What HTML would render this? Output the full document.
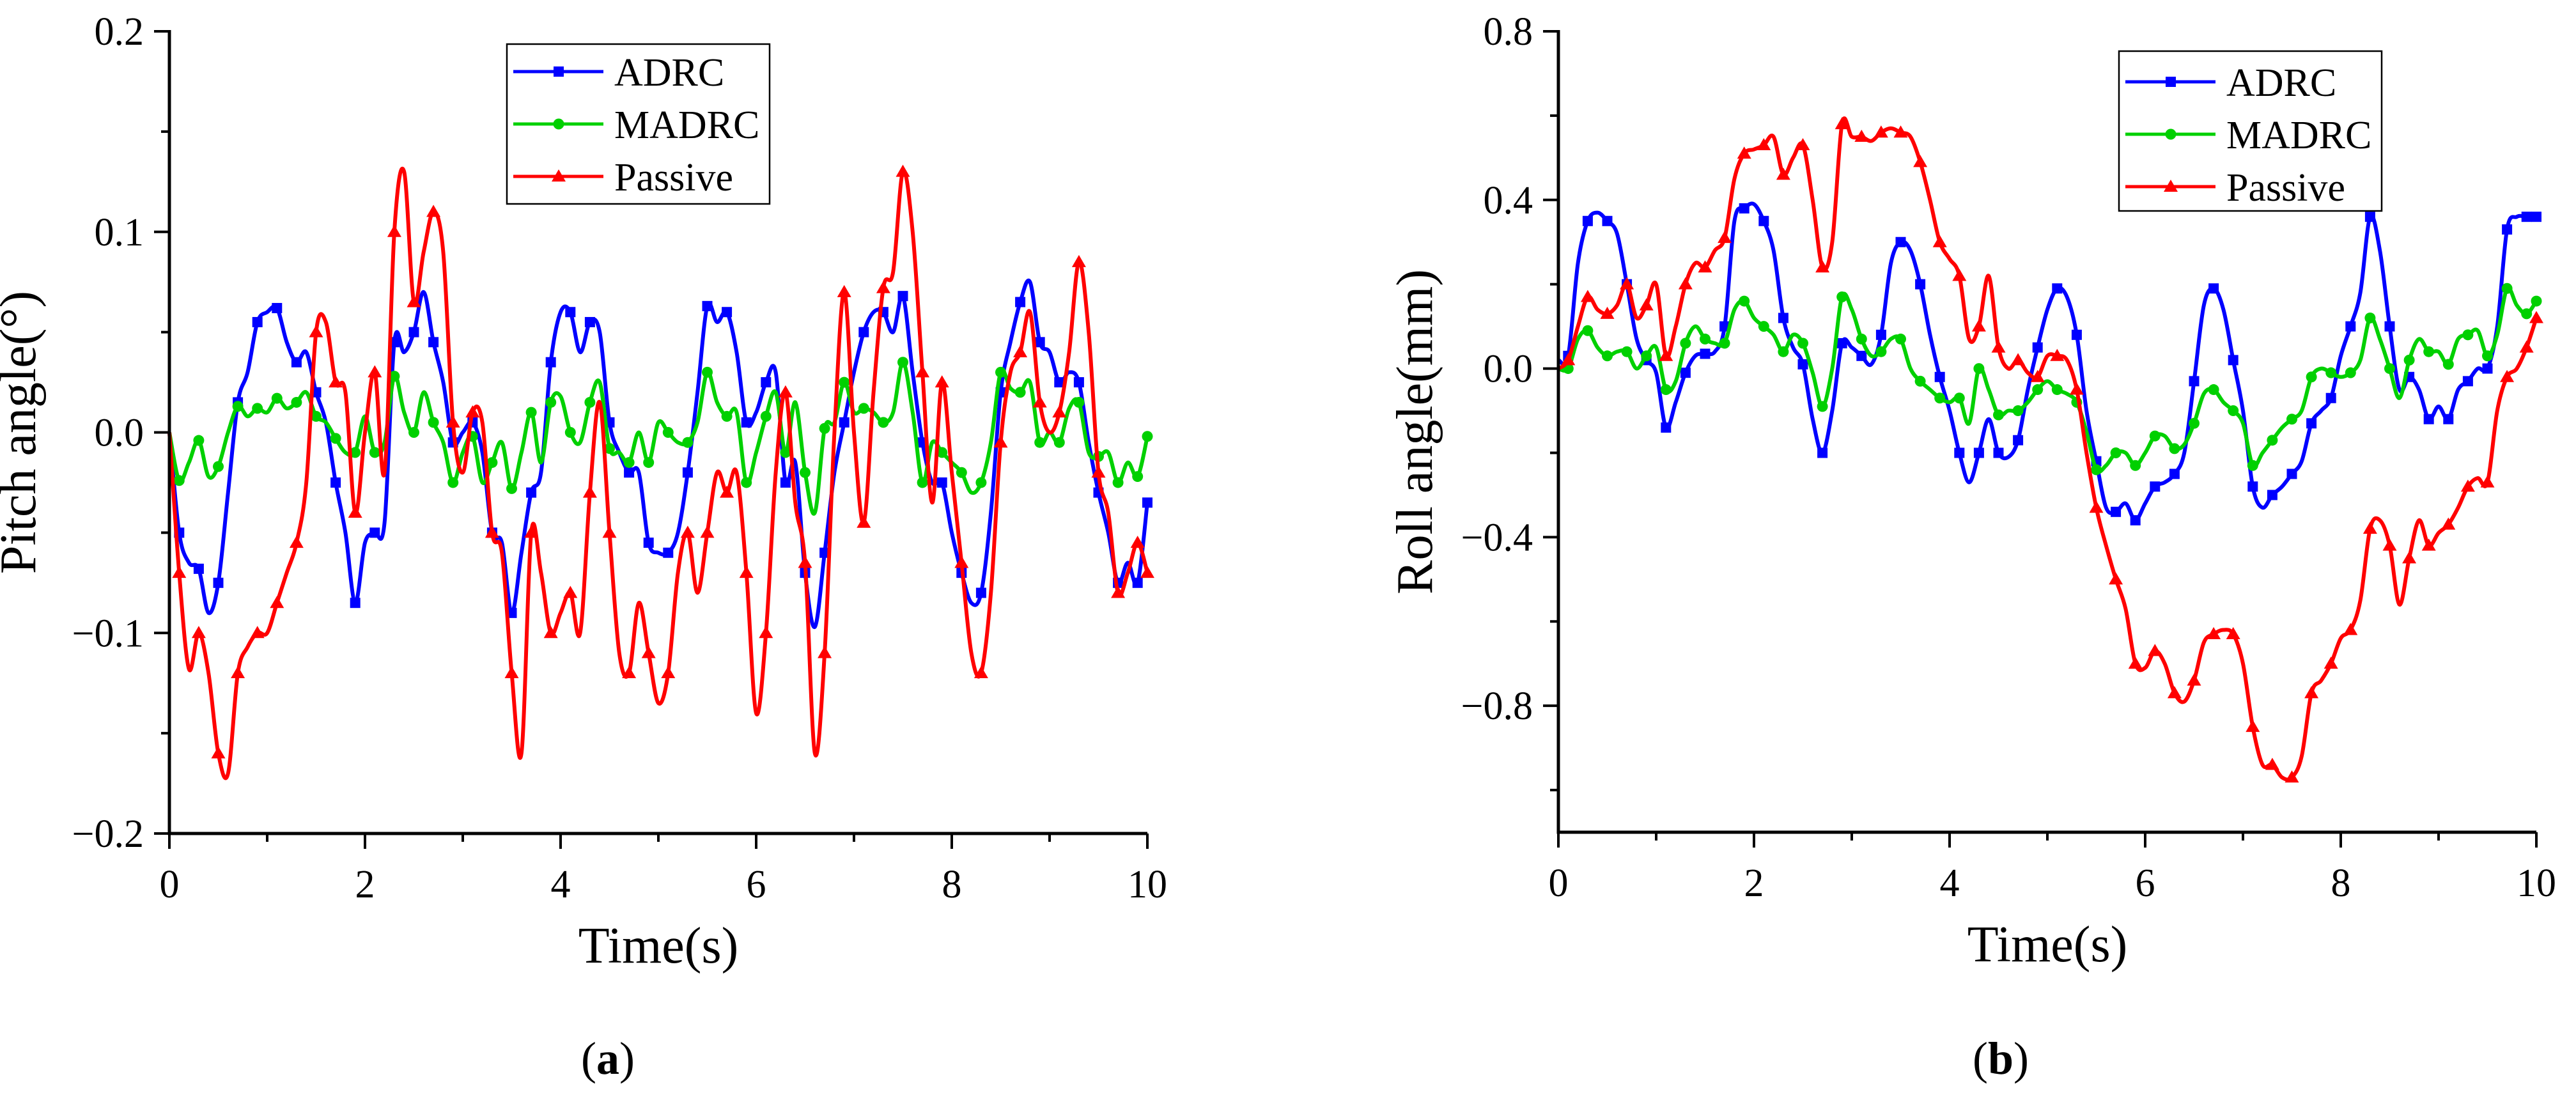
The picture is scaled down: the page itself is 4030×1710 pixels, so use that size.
<!DOCTYPE html>
<html><head><meta charset="utf-8"><style>
html,body{margin:0;padding:0;background:#fff;}
svg{display:block;font-family:"Liberation Serif",serif;}
text{font-family:"Liberation Serif",serif;}
</style></head><body>
<svg id="fig" width="4030" height="1710" viewBox="0 0 4030 1710" xmlns="http://www.w3.org/2000/svg"></svg>
<script>
const timeStart = 0, timeStep = 0.1;
const pitchADRC = [0,-0.05,-0.065,-0.068,-0.09,-0.075,-0.03,0.015,0.03,0.055,0.06,0.062,0.045,0.035,0.04,0.02,0.005,-0.025,-0.05,-0.085,-0.055,-0.05,-0.045,0.045,0.04,0.05,0.07,0.045,0.025,-0.005,0,0.005,-0.01,-0.05,-0.055,-0.09,-0.06,-0.03,-0.02,0.035,0.06,0.06,0.04,0.055,0.05,0.005,-0.01,-0.02,-0.02,-0.055,-0.06,-0.06,-0.05,-0.02,0.02,0.063,0.055,0.06,0.04,0.005,0.01,0.025,0.03,-0.025,-0.015,-0.07,-0.097,-0.06,-0.02,0.005,0.03,0.05,0.06,0.06,0.05,0.068,0.03,-0.005,-0.025,-0.025,-0.05,-0.07,-0.085,-0.08,-0.04,0.02,0.045,0.065,0.075,0.045,0.04,0.025,0.03,0.025,-0.005,-0.03,-0.05,-0.075,-0.065,-0.075,-0.035];
const pitchMADRC = [0,-0.024,-0.015,-0.004,-0.022,-0.017,0,0.013,0.008,0.012,0.01,0.017,0.012,0.015,0.02,0.008,0.005,-0.003,-0.01,-0.01,0.008,-0.01,-0.005,0.028,0.01,0,0.02,0.005,-0.005,-0.025,-0.01,-0.002,-0.025,-0.015,-0.005,-0.028,-0.01,0.01,-0.015,0.015,0.018,0,-0.005,0.015,0.025,-0.008,-0.01,-0.015,0,-0.015,0.005,0,-0.005,-0.005,0.005,0.03,0.015,0.008,0.01,-0.025,-0.01,0.008,0.02,-0.01,0.015,-0.02,-0.04,0.002,0.005,0.025,0.01,0.012,0.01,0.005,0.01,0.035,0.01,-0.025,-0.005,-0.01,-0.015,-0.02,-0.03,-0.025,-0.005,0.03,0.022,0.02,0.025,-0.005,0,-0.005,0.012,0.015,-0.01,-0.012,-0.01,-0.025,-0.015,-0.022,-0.002];
const pitchPassive = [0,-0.07,-0.118,-0.1,-0.12,-0.16,-0.17,-0.12,-0.107,-0.1,-0.1,-0.085,-0.07,-0.055,-0.025,0.05,0.055,0.025,0.02,-0.04,0,0.03,-0.02,0.1,0.13,0.065,0.09,0.11,0.09,0.005,-0.02,0.01,0.005,-0.05,-0.06,-0.12,-0.16,-0.05,-0.07,-0.1,-0.09,-0.08,-0.1,-0.03,0.015,-0.05,-0.11,-0.12,-0.085,-0.11,-0.135,-0.12,-0.07,-0.05,-0.08,-0.05,-0.02,-0.03,-0.02,-0.07,-0.14,-0.1,-0.02,0.02,-0.035,-0.065,-0.16,-0.11,0,0.07,0,-0.045,0.02,0.072,0.08,0.13,0.1,0.03,-0.035,0.025,-0.02,-0.065,-0.11,-0.12,-0.08,-0.005,0.03,0.04,0.06,0.015,0,0.01,0.04,0.085,0.05,-0.02,-0.04,-0.08,-0.07,-0.055,-0.07];
const rollADRC = [0.02,0.03,0.25,0.35,0.37,0.35,0.32,0.2,0.07,0.02,-0.01,-0.14,-0.08,-0.01,0.03,0.035,0.04,0.1,0.35,0.38,0.39,0.35,0.28,0.12,0.05,0.01,-0.12,-0.2,-0.1,0.06,0.05,0.03,0.01,0.08,0.25,0.3,0.28,0.2,0.08,-0.02,-0.1,-0.2,-0.27,-0.2,-0.12,-0.2,-0.21,-0.17,-0.05,0.05,0.14,0.19,0.17,0.08,-0.1,-0.22,-0.33,-0.34,-0.32,-0.36,-0.32,-0.28,-0.27,-0.25,-0.2,-0.03,0.15,0.19,0.14,0.02,-0.1,-0.28,-0.33,-0.3,-0.28,-0.25,-0.22,-0.13,-0.1,-0.07,0.03,0.1,0.18,0.36,0.28,0.1,-0.05,-0.02,-0.05,-0.12,-0.09,-0.12,-0.05,-0.03,0,0,0.1,0.33,0.36,0.36,0.36];
const rollMADRC = [0,0,0.07,0.09,0.05,0.03,0.04,0.04,0,0.03,0.05,-0.05,-0.03,0.06,0.1,0.07,0.06,0.06,0.14,0.16,0.12,0.1,0.08,0.04,0.08,0.06,-0.01,-0.09,0,0.17,0.14,0.07,0.03,0.04,0.07,0.07,0,-0.03,-0.05,-0.07,-0.08,-0.07,-0.13,0,-0.05,-0.11,-0.1,-0.1,-0.08,-0.05,-0.03,-0.05,-0.06,-0.08,-0.15,-0.24,-0.23,-0.2,-0.2,-0.23,-0.2,-0.16,-0.16,-0.19,-0.18,-0.13,-0.06,-0.05,-0.08,-0.1,-0.13,-0.23,-0.2,-0.17,-0.14,-0.12,-0.1,-0.02,0,-0.01,-0.02,-0.01,0.02,0.12,0.07,0,-0.07,0.02,0.07,0.04,0.04,0.01,0.07,0.08,0.09,0.03,0.08,0.19,0.15,0.13,0.16];
const rollPassive = [0,0.02,0.1,0.17,0.14,0.13,0.15,0.2,0.12,0.15,0.2,0.03,0.1,0.2,0.25,0.24,0.28,0.31,0.45,0.51,0.52,0.53,0.55,0.46,0.5,0.53,0.4,0.24,0.3,0.58,0.55,0.55,0.54,0.56,0.57,0.56,0.55,0.49,0.4,0.3,0.26,0.22,0.07,0.1,0.22,0.05,0,0.02,-0.01,-0.02,0.03,0.03,0.02,-0.05,-0.2,-0.33,-0.42,-0.5,-0.57,-0.7,-0.71,-0.67,-0.7,-0.77,-0.79,-0.74,-0.65,-0.63,-0.62,-0.63,-0.7,-0.85,-0.94,-0.94,-0.97,-0.97,-0.92,-0.77,-0.74,-0.7,-0.64,-0.62,-0.55,-0.38,-0.36,-0.42,-0.56,-0.45,-0.36,-0.42,-0.39,-0.37,-0.33,-0.28,-0.26,-0.27,-0.1,-0.02,0,0.05,0.12];
const xTicks = [0,2,4,6,8,10];
const pitchTicks = [-0.2,-0.1,0.0,0.1,0.2];
const pitchTickLabels = ["\u22120.2","\u22120.1","0.0","0.1","0.2"];
const rollTicks = [-0.8,-0.4,0.0,0.4,0.8];
const rollTickLabels = ["\u22120.8","\u22120.4","0.0","0.4","0.8"];
const seriesNames = ["ADRC","MADRC","Passive"];

const NS="http://www.w3.org/2000/svg";
const svg=document.getElementById('fig');
function mk(tag,attrs,parent){const e=document.createElementNS(NS,tag);for(const k in attrs)e.setAttribute(k,attrs[k]);(parent||svg).appendChild(e);return e;}
const colors=["#0000ff","#00d000","#ff0000"];
const shapes=["square","circle","triangle"];
const FF='"Liberation Serif", serif';

function marker(g,shape,x,y,c){
  let m;
  if(shape==="square") m=mk('rect',{x:x-8,y:y-8,width:16,height:16,fill:c},g);
  else if(shape==="circle") m=mk('circle',{cx:x,cy:y,r:8.5,fill:c},g);
  else m=mk('polygon',{points:`${x},${y-11} ${x+11},${y+8} ${x-11},${y+8}`,fill:c},g);
  
  
}
function smoothPath(pts){
  let d=`M${pts[0][0]},${pts[0][1]}`;
  for(let i=0;i<pts.length-1;i++){
    const p0=pts[Math.max(0,i-1)],p1=pts[i],p2=pts[i+1],p3=pts[Math.min(pts.length-1,i+2)];
    const c1x=p1[0]+(p2[0]-p0[0])/6,c1y=p1[1]+(p2[1]-p0[1])/6;
    const c2x=p2[0]-(p3[0]-p1[0])/6,c2y=p2[1]-(p3[1]-p1[1])/6;
    d+=` C${c1x.toFixed(1)},${c1y.toFixed(1)} ${c2x.toFixed(1)},${c2y.toFixed(1)} ${p2[0].toFixed(1)},${p2[1].toFixed(1)}`;
  }
  return d;
}

function chart(cfg){
  const g=mk('g',{});
  
  
  const X=t=>cfg.x0+(t-0)/(10-0)*(cfg.x1-cfg.x0);
  const Y=v=>cfg.y0+(cfg.vmax-v)/(cfg.vmax-cfg.vmin)*(cfg.y1-cfg.y0);
  cfg.series.forEach((arr,si)=>{
    const pts=arr.map((v,i)=>[X(timeStart+i*timeStep),Y(v)]);
    const p=mk('path',{d:smoothPath(pts),fill:'none',stroke:colors[si],'stroke-width':6,'stroke-linejoin':'round'},g);
    
    
    const mg=mk('g',{},g);
    
    
    arr.forEach((v,i)=>{ if(i%2===1||i===arr.length-1) marker(mg,shapes[si],X(timeStart+i*timeStep),Y(v),colors[si]); });
  });
  const ax=mk('path',{d:`M${cfg.x0},${cfg.y0-2} L${cfg.x0},${cfg.y1} L${cfg.x1},${cfg.y1}`,fill:'none',stroke:'#000','stroke-width':5},g);
   
  const step=cfg.minorStep;
  const kmin=Math.ceil(cfg.vmin/step-1e-6), kmax=Math.floor(cfg.vmax/step+1e-6);
  for(let k=kmin;k<=kmax;k++){
    const v=k*step;
    const y=Y(v);const major=cfg.yTicks.some(t=>Math.abs(t-v)<1e-6);
    const tk=mk('line',{x1:cfg.x0-(major?24:13),x2:cfg.x0,y1:y,y2:y,stroke:'#000','stroke-width':4},g);
    
  }
  cfg.yTicks.forEach((v,i)=>{
    const t=mk('text',{x:cfg.x0-40,y:Y(v)+21,'text-anchor':'end','font-size':62,'font-family':FF},g);
    t.textContent=cfg.yLabels[i];
    
  });
  for(let s=0;s<=10;s++){
    const x=X(s);const major=s%2===0;
    const tk=mk('line',{x1:x,x2:x,y1:cfg.y1,y2:cfg.y1+(major?24:13),stroke:'#000','stroke-width':4},g);
    
  }
  xTicks.forEach(s=>{
    const t=mk('text',{x:X(s),y:cfg.y1+100,'text-anchor':'middle','font-size':62,'font-family':FF},g);
    t.textContent=String(s);
    
  });
  const xt=mk('text',{x:(cfg.x0+cfg.x1)/2,y:cfg.y1+202,'text-anchor':'middle','font-size':80,'font-family':FF},g);
  xt.textContent='Time(s)';
  const yt=mk('text',{x:0,y:0,'text-anchor':'middle','font-size':80,'font-family':FF,transform:`translate(${cfg.ytx},${(cfg.y0+cfg.y1)/2}) rotate(-90)`},g);
  yt.textContent=cfg.yTitle;
  const cap=mk('text',{x:cfg.capX,y:1680,'text-anchor':'middle','font-size':72,'font-family':FF},g);
  cap.innerHTML='(<tspan font-weight="bold">'+cfg.cap+'</tspan>)';
  
  const lg=mk('g',{},g);
  
  mk('rect',{x:cfg.lx,y:cfg.ly,width:411,height:250,fill:'#fff',stroke:'#000','stroke-width':2.5},lg);
  seriesNames.forEach((n,i)=>{
    const yy=cfg.ly+(cfg.ly0)+i*82;
    const e=mk('g',{},lg);
    
    
    mk('line',{x1:cfg.lx+10,x2:cfg.lx+151,y1:yy,y2:yy,stroke:colors[i],'stroke-width':5},e);
    marker(e,shapes[i],cfg.lx+81,yy,colors[i]);
    const t=mk('text',{x:cfg.lx+168,y:yy+22,'font-size':62,'font-family':FF},e);
    t.textContent=n;
  });
}

chart({name:'pitch-chart',x0:265,x1:1795,y0:49,y1:1304,vmin:-0.2,vmax:0.2,minorStep:0.05,yTicks:pitchTicks,yLabels:pitchTickLabels,
  series:[pitchADRC,pitchMADRC,pitchPassive],yTitle:'Pitch angle(°)',ytx:55,cap:'a',capX:951,lx:793,ly:69,ly0:43});
chart({name:'roll-chart',x0:2438,x1:3968,y0:49,y1:1302,vmin:-1.1,vmax:0.8,minorStep:0.2,yTicks:rollTicks,yLabels:rollTickLabels,
  series:[rollADRC,rollMADRC,rollPassive],yTitle:'Roll angle(mm)',ytx:2240,cap:'b',capX:3130,lx:3315,ly:80,ly0:48});
</script>
</body></html>
